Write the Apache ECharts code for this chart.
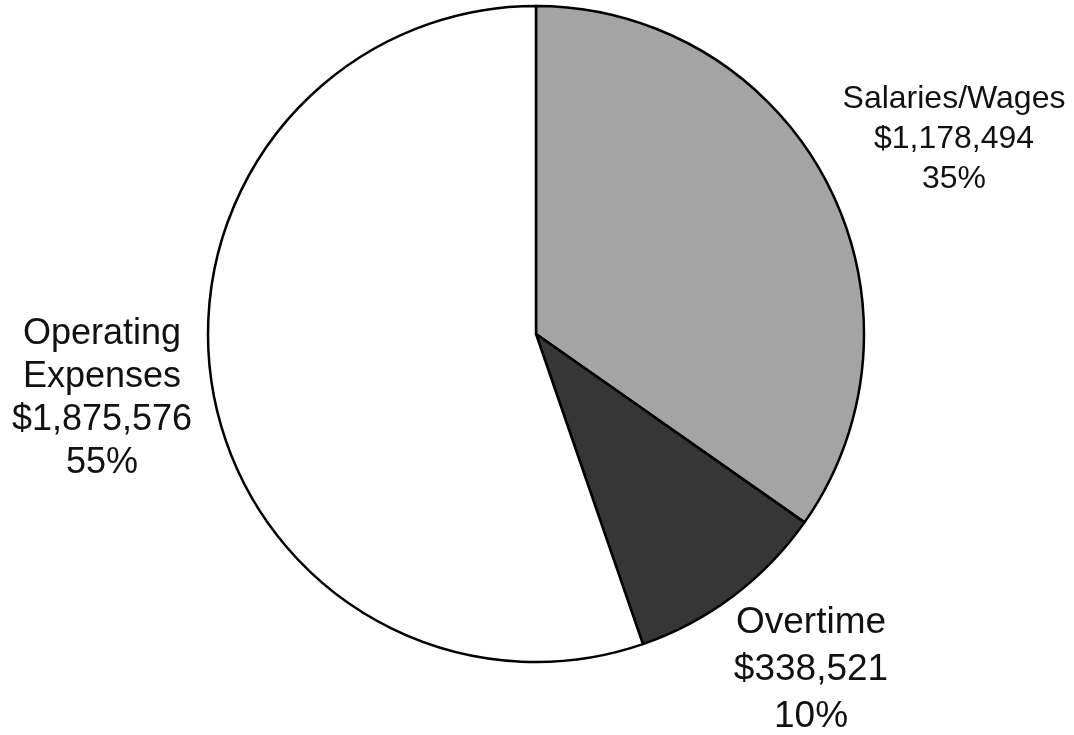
<!DOCTYPE html>
<html>
<head>
<meta charset="utf-8">
<script src="https://cdn.jsdelivr.net/npm/echarts@6/dist/echarts.min.js"></script>
<style>
    html, body { margin: 0; padding: 0; background: #fff; }
    #chart { width: 1074px; height: 735px; }
</style>
</head>
<body>
<div id="chart"></div>
<script>
    // budget split
    var categories = ['Salaries/Wages', 'Overtime', 'Operating\nExpenses'];
    var amounts = [1178494, 338521, 1875576];

    var sliceColors = ['#a4a4a4', '#363636', '#ffffff'];
    var labelSizes = [32, 37, 36];
    var labelLines = [40, 47, 43];
    var labelSpots = [[954, 139], [811, 670], [102, 399]];

    var chart = echarts.init(document.getElementById('chart'));
    chart.setOption({
        animation: false,
        backgroundColor: '#ffffff',
        series: [
            {
                type: 'pie',
                center: [536, 334],
                radius: [0, 328],
                startAngle: 90,
                clockwise: true,
                percentPrecision: 0,
                labelLine: { show: false },
                label: {
                    show: true,
                    position: 'outside',
                    overflow: 'none',
                    color: '#111',
                    fontFamily: 'Liberation Sans, Arial, sans-serif',
                    align: 'center',
                    formatter: function (p) {
                        return p.name + '\n$' + p.value.toLocaleString('en-US') + '\n' + p.percent + '%';
                    }
                },
                labelLayout: function (params) {
                    var s = labelSpots[params.dataIndex];
                    return { x: s[0], y: s[1], align: 'center', verticalAlign: 'middle' };
                },
                itemStyle: {
                    borderColor: '#000',
                    borderWidth: 2.5
                },
                emphasis: { disabled: true },
                data: categories.map(function (c, i) {
                    return {
                        name: c,
                        value: amounts[i],
                        itemStyle: { color: sliceColors[i] },
                        label: { fontSize: labelSizes[i], lineHeight: labelLines[i] }
                    };
                })
            }
        ]
    });
</script>
</body>
</html>
